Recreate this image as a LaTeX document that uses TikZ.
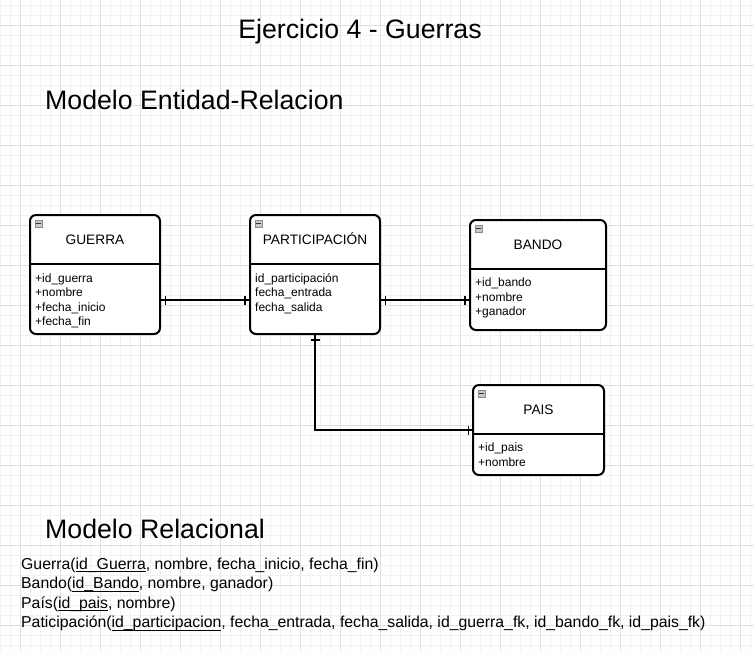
\documentclass[tikz,border=0pt]{standalone}
\usepackage{fontspec}
\setmainfont{Liberation Sans}
\usetikzlibrary{calc}
\definecolor{gmajor}{HTML}{E0E0E0}
\definecolor{gminor}{HTML}{F2F2F2}
\definecolor{iconfill}{HTML}{C8C8C8}
\definecolor{iconborder}{HTML}{8A8A8A}
\newsavebox\ulbox
\newcommand\ulk[1]{\sbox\ulbox{#1}\rlap{\rule[-2.9pt]{\wd\ulbox}{0.9pt}}\usebox\ulbox}
\begin{document}
\begin{tikzpicture}[x=1pt,y=-1pt,
  entity/.style={draw=black, line width=2pt, rounded corners=6pt, fill=white, inner sep=0pt},
  divider/.style={line width=2pt},
  hdr/.style={font=\fontsize{13.7}{16}\selectfont, inner sep=0pt, anchor=base},
  attrs/.style={font=\fontsize{12}{14.3}\selectfont, align=left, anchor=north west, inner sep=0pt},
  link/.style={line width=1.2pt},
  tick/.style={line width=1.2pt},
  icon/.style={draw=iconborder, fill=iconfill, line width=0.6pt, minimum size=7pt, inner sep=0pt},
  minus/.style={line width=0.9pt, black!80},
  big/.style={font=\fontsize{26.7}{32}\selectfont, inner sep=0pt},
  reltext/.style={font=\fontsize{15.8}{19.4}\selectfont, inner sep=0pt, anchor=base west}]

\useasboundingbox (0,0) rectangle (754,651);
\fill[white] (0,0) rectangle (754,651);
\foreach \x in {0,10,...,750} \draw[gminor, line width=1pt] (\x,0) -- (\x,651);
\foreach \y in {5,15,...,645} \draw[gminor, line width=1pt] (0,\y) -- (754,\y);
\foreach \x in {20,60,...,740} \draw[gmajor, line width=1pt] (\x,0) -- (\x,651);
\foreach \y in {25,65,...,625} \draw[gmajor, line width=1pt] (0,\y) -- (754,\y);

% titles
\node[big, anchor=base] (title) at (360,38) {Ejercicio 4 - Guerras};
\node[big, anchor=base west] (er) at (45,109) {Modelo Entidad-Relacion};
\node[big, anchor=base west] (rel) at (45,538) {Modelo Relacional};

% entities
\node[entity, minimum width=130pt, minimum height=119pt] (guerra) at (95,274.5) {};
\node[entity, minimum width=130pt, minimum height=119pt] (part) at (315,274.5) {};
\node[entity, minimum width=136pt, minimum height=110pt] (bando) at (538,275) {};
\node[entity, minimum width=131pt, minimum height=90pt] (pais) at (538.5,430) {};

\foreach \e in {guerra,part,bando,pais}{
  \draw[divider] ($(\e.north west)+(0,50)$) -- ($(\e.north east)+(0,50)$);
  \node[icon] (\e I) at ($(\e.north west)+(9.5,9.5)$) {};
  \draw[minus] ($(\e I.west)+(1.5,0)$) -- ($(\e I.east)+(-1.5,0)$);
}

\node[hdr] (guerraT) at ($(guerra.north)+(0,30.5)$) {GUERRA};
\node[hdr] (partT) at ($(part.north)+(0,30.5)$) {PARTICIPACIÓN};
\node[hdr] (bandoT) at ($(bando.north)+(0,30.5)$) {BANDO};
\node[hdr] (paisT) at ($(pais.north)+(0,30.5)$) {PAIS};

\node[attrs] (guerraA) at ($(guerra.north west)+(6,59.5)$) {+id\_guerra\\+nombre\\+fecha\_inicio\\+fecha\_fin};
\node[attrs] (partA) at ($(part.north west)+(6,59.5)$) {id\_participación\\fecha\_entrada\\fecha\_salida};
\node[attrs] (bandoA) at ($(bando.north west)+(6,59)$) {+id\_bando\\+nombre\\+ganador};
\node[attrs] (paisA) at ($(pais.north west)+(6,59)$) {+id\_pais\\+nombre};

% connectors
\coordinate (r1) at (0,300);
\draw[link] (guerra.east |- r1) -- (part.west |- r1);
\draw[tick] ($(guerra.east |- r1)+(4.5,-4.5)$) -- ++(0,9);
\draw[tick] ($(part.west |- r1)+(-4,-4.5)$) -- ++(0,9);

\draw[link] (part.east |- r1) -- (bando.west |- r1);
\draw[tick] ($(part.east |- r1)+(4.5,-4.5)$) -- ++(0,9);
\draw[tick] ($(bando.west |- r1)+(-4,-4.5)$) -- ++(0,9);

\draw[link] (part.south) |- (pais.west);
\draw[tick] ($(part.south)+(-4.5,5)$) -- ++(9,0);
\draw[tick] ($(pais.west)+(-3.5,-4.5)$) -- ++(0,9);

% relational model
\node[reltext] (rel1) at (21,569) {Guerra(\ulk{id\_Guerra}, nombre, fecha\_inicio, fecha\_fin)};
\node[reltext] (rel2) at (21,588.5) {Bando(\ulk{id\_Bando}, nombre, ganador)};
\node[reltext] (rel3) at (21,608) {País(\ulk{id\_pais}, nombre)};
\node[reltext] (rel4) at (21,627.5) {Paticipación(\ulk{id\_participacion}, fecha\_entrada, fecha\_salida, id\_guerra\_fk, id\_bando\_fk, id\_pais\_fk)};
\end{tikzpicture}
\end{document}
